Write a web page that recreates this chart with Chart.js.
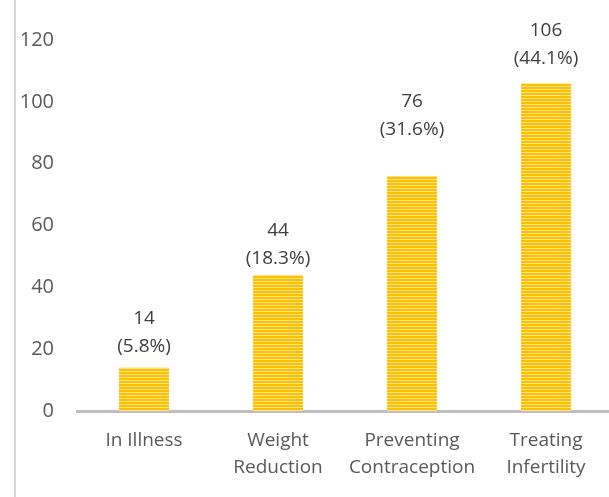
<!DOCTYPE html>
<html>
<head>
<meta charset="utf-8">
<script src="https://cdn.jsdelivr.net/npm/chart.js@4/dist/chart.umd.min.js"></script>
<style>
    html, body { margin: 0; padding: 0; background: #fff; overflow: hidden; }
    #wrap { position: relative; width: 613px; height: 497px; }
    #edge { position: absolute; left: 14px; top: 0; width: 2px; height: 497px; background: #d9d9d9; }
</style>
</head>
<body>
<div id="wrap">
    <canvas id="chart" width="613" height="497"></canvas>
    <div id="edge"></div>
</div>
<script>
const categories = [['In Illness'], ['Weight', 'Reduction'], ['Preventing', 'Contraception'], ['Treating', 'Infertility']];
const counts = [14, 44, 76, 106];
const percents = ['5.8%', '18.3%', '31.6%', '44.1%'];
const yTicks = [0, 20, 40, 60, 80, 100, 120];

// distance (px) from bar top to the percent line, as placed in the original
const labelGaps = [21, 16, 46, 25];

function stripePattern() {
    const c = document.createElement('canvas');
    c.width = 4;
    c.height = 3;
    const g = c.getContext('2d');
    g.fillStyle = '#ffc000';
    g.fillRect(0, 0, 4, 3);
    g.fillStyle = '#ffe38a';
    g.fillRect(0, 2, 4, 1);
    return g.createPattern(c, 'repeat');
}

const barLabels = {
    id: 'barLabels',
    afterDatasetsDraw(chart) {
        const ctx = chart.ctx;
        const meta = chart.getDatasetMeta(0);
        ctx.save();
        ctx.font = '19px "Open Sans"';
        ctx.fillStyle = '#404040';
        ctx.textAlign = 'center';
        ctx.textBaseline = 'middle';
        meta.data.forEach((bar, i) => {
            const y = bar.y - labelGaps[i];
            ctx.fillText('(' + percents[i] + ')', bar.x, y);
            ctx.fillText(String(counts[i]), bar.x, y - 28);
        });
        ctx.restore();
    }
};

const ctx = document.getElementById('chart').getContext('2d');
new Chart(ctx, {
    type: 'bar',
    data: {
        labels: categories,
        datasets: [{
            data: counts,
            backgroundColor: stripePattern(),
            borderWidth: 0,
            barPercentage: 0.373,
            categoryPercentage: 1
        }]
    },
    options: {
        responsive: false,
        animation: false,
        layout: { padding: { top: 40, left: 0, right: 0, bottom: 0 } },
        plugins: {
            legend: { display: false },
            tooltip: { enabled: false }
        },
        scales: {
            x: {
                grid: { display: false, drawTicks: false },
                border: { display: true, color: '#bfbfbf', width: 3 },
                ticks: {
                    color: '#595959',
                    font: { family: 'Open Sans', size: 19, lineHeight: 1.42 },
                    padding: 16,
                    maxRotation: 0,
                    autoSkip: false
                },
                afterFit(scale) { scale.height = 86; }
            },
            y: {
                min: 0,
                max: 120,
                grid: { display: false, drawTicks: false },
                border: { display: false },
                afterBuildTicks(scale) { scale.ticks = yTicks.map(v => ({ value: v })); },
                ticks: {
                    color: '#595959',
                    font: { family: 'Open Sans', size: 20 },
                    padding: 23
                },
                afterFit(scale) { scale.width = 77; }
            }
        }
    },
    plugins: [barLabels]
});
</script>
</body>
</html>
